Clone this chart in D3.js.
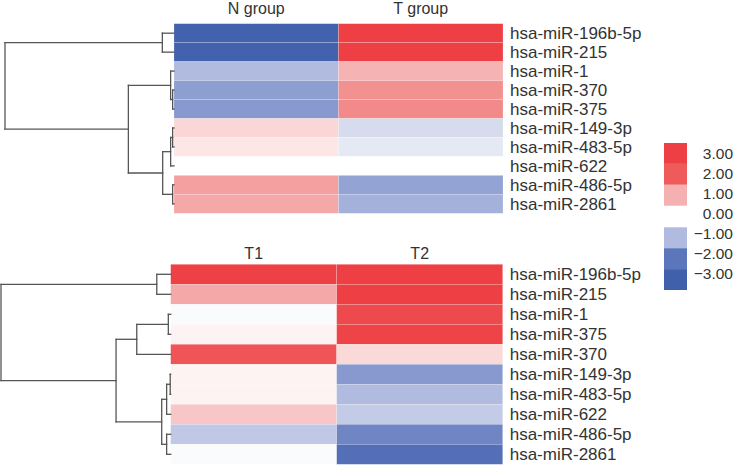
<!DOCTYPE html>
<html><head><meta charset="utf-8">
<script src="https://cdn.jsdelivr.net/npm/d3@7"></script>
<style>body{margin:0;background:#fff}svg{display:block}text{font-family:"Liberation Sans",Arial,sans-serif}</style>
</head><body><svg id="c" width="733" height="466"></svg>
<script>
// ---------- data ----------
const topRows = ["hsa-miR-196b-5p","hsa-miR-215","hsa-miR-1","hsa-miR-370","hsa-miR-375","hsa-miR-149-3p","hsa-miR-483-5p","hsa-miR-622","hsa-miR-486-5p","hsa-miR-2861"];
const topCols = ["N group","T group"];
const topN = [-2.9,-2.9,-1.0,-1.42,-1.5,0.53,0.32,0,1.2,1.1];
const topT = [3,3,0.97,1.38,1.45,-0.53,-0.33,0,-1.35,-1.15];

const botRows = ["hsa-miR-196b-5p","hsa-miR-215","hsa-miR-1","hsa-miR-375","hsa-miR-370","hsa-miR-149-3p","hsa-miR-483-5p","hsa-miR-622","hsa-miR-486-5p","hsa-miR-2861"];
const botCols = ["T1","T2"];
const botT1 = [2.95,1.1,-0.06,0.15,2.2,0.15,0.15,0.73,-0.81,-0.06];
const botT2 = [3,3,2.6,2.85,0.49,-1.5,-1.0,-0.76,-1.78,-2.3];

// dendrograms: leaves are row indices, h = merge height
const topTree = {h:10,c:[{h:0.69,c:[0,1]},{h:2.7,c:[{h:0.2,c:[2,{h:0.08,c:[3,4]}]},{h:0.67,c:[{h:0.2,c:[{h:0.08,c:[5,6]},7]},{h:0.08,c:[8,9]}]}]}]};
const botTree = {h:10,c:[{h:0.82,c:[0,1]},{h:3.22,c:[{h:2.0,c:[{h:0.14,c:[2,3]},4]},{h:0.53,c:[{h:0.24,c:[{h:0.03,c:[5,6]},7]},{h:0.24,c:[8,9]}]}]}]};

const legendVals = [3,2,1,0,-1,-2,-3];
const legendBlocks = [[3,2,1],[-1,-2,-3]];

// ---------- drawing ----------
const svg = d3.select("#c");
const color = d3.scaleLinear()
  .domain([-3,-2,-1,0,1,2,3])
  .range(["#4060AB","#5C76BC","#B1BBDF","#FFFFFF","#F5B1B1","#EF5A5A","#EE4044"])
  .clamp(true);

function panel(rows, cols, vals, tree, box) {
  const g = svg.append("g");
  const y = d3.scaleBand().domain(d3.range(rows.length)).range([box.y0, box.y1]);
  const x = d3.scaleBand().domain(cols).range([box.x0, box.x1]);
  cols.forEach((c, ci) => {
    g.selectAll(null).data(vals[ci]).join("rect")
      .attr("x", x(c)).attr("width", x.bandwidth())
      .attr("y", (d,i) => y(i)).attr("height", y.bandwidth())
      .attr("fill", d => color(d))
      .attr("stroke", "#ffffff").attr("stroke-opacity", 0.3).attr("stroke-width", 0.6);
    g.append("text").attr("x", x(c) + x.bandwidth()/2).attr("y", box.hy)
      .attr("text-anchor","middle").attr("font-size", 16).attr("fill","#333").text(c);
  });
  g.selectAll(null).data(rows).join("text")
    .attr("x", box.x1 + 7).attr("y", (d,i) => y(i) + y.bandwidth()/2)
    .attr("dy","0.36em").attr("font-size", 17).attr("fill","#333").text(d => d);

  // dendrogram
  const hx = d3.scaleLinear().domain([0, tree.h]).range([box.x0, box.dx]);
  const segs = [];
  function walk(n) {
    if (typeof n === "number") return {x: hx(0), y: y(n) + y.bandwidth()/2};
    const ch = n.c.map(walk);
    const nx = hx(n.h);
    const ny = d3.mean(ch, d => d.y);
    segs.push([nx, ch[0].y, nx, ch[ch.length-1].y]);
    ch.forEach(p => segs.push([nx, p.y, p.x, p.y]));
    return {x: nx, y: ny};
  }
  walk(tree);
  g.selectAll(null).data(segs).join("line")
    .attr("x1", d=>d[0]).attr("y1", d=>d[1]).attr("x2", d=>d[2]).attr("y2", d=>d[3])
    .attr("stroke","#555").attr("stroke-width",1.3).attr("stroke-linecap","square");
}

panel(topRows, topCols, [topN, topT], topTree, {x0:174, x1:503, y0:23.7, y1:213.3, dx:5, hy:14});
panel(botRows, botCols, [botT1, botT2], botTree, {x0:170.7, x1:502.7, y0:264.3, y1:464.3, dx:1, hy:258.5});

// legend
const lg = svg.append("g");
const ly = d3.scaleLinear().domain([3,-3]).range([153,273]);
const blockY = [143, 227.3];
const bh = 20.9;
legendBlocks.forEach((blk, bi) => {
  lg.selectAll(null).data(blk).join("rect")
    .attr("x", 664).attr("width", 23)
    .attr("y", (d,i) => blockY[bi] + i*bh).attr("height", bh)
    .attr("fill", d => color(d));
});
lg.selectAll(null).data(legendVals).join("text")
  .attr("x", 733).attr("y", d => ly(d)).attr("dy","0.36em")
  .attr("text-anchor","end").attr("font-size", 15.5).attr("fill","#333")
  .text(d => d3.format(".2f")(d).replace("-", "\u2212"));
</script></body></html>
